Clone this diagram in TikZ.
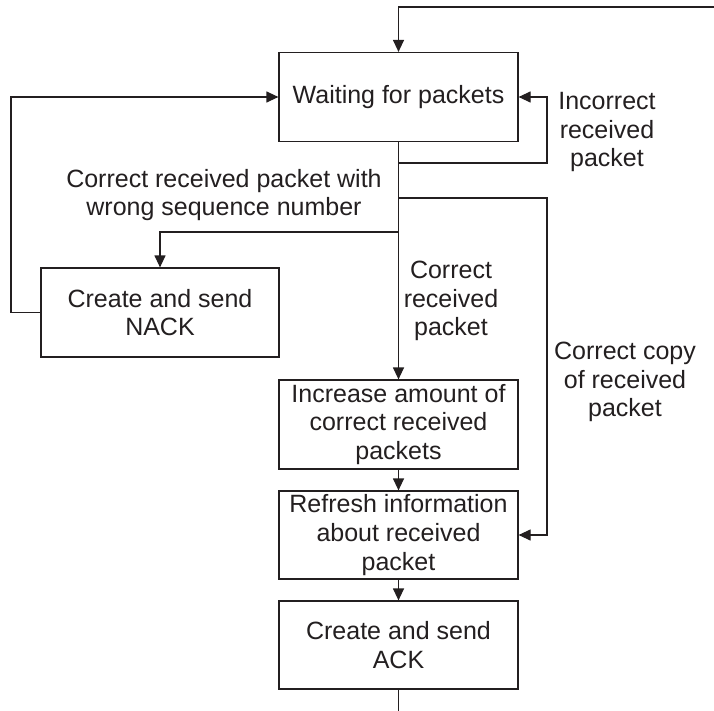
\documentclass[tikz,border=0pt]{standalone}
\usepackage{fontspec}
\setmainfont{Liberation Sans}
\usetikzlibrary{arrows.meta}
\definecolor{ink}{RGB}{35,31,32}
\tikzset{
  x=1pt, y=-1pt,
  every node/.style={text=ink, font=\fontsize{25}{28.8}\selectfont, align=center, inner sep=0pt},
  boxnode/.style={draw=ink, line width=1.2pt, minimum width=239pt, minimum height=89pt},
  conn/.style={draw=ink, line width=1.2pt},
  arr/.style={conn, -{Triangle[length=12pt,width=11pt]}},
  lbl/.style={}
}
\begin{document}
\begin{tikzpicture}
\useasboundingbox (0,0) rectangle (714,711);
\fill[white] (0,0) rectangle (714,711);

\node[boxnode] (wait) at (398.5,97) {Waiting for packets};
\node[boxnode, minimum width=238pt] (nack) at (160,312.5) {Create and send\\NACK};
\node[boxnode] (inc) at (398.5,424.5) {Increase amount of\\correct received\\packets};
\node[boxnode, minimum height=88pt] (ref) at (398.5,535) {Refresh information\\about received\\packet};
\node[boxnode, minimum height=88pt] (ack) at (398.5,645) {Create and send\\ACK};

\node[lbl] (l1) at (607,132) {Incorrect\\received\\packet};
\node[lbl] (l2) at (224,195) {Correct received packet with\\wrong sequence number};
\node[lbl] (l3) at (451,301) {Correct\\received\\packet};
\node[lbl] (l4) at (625,382) {Correct copy\\of received\\packet};

\coordinate (tr) at (714,7);
\coordinate (j1) at (398.5,163);
\coordinate (j2) at (398.5,198);
\coordinate (j3) at (398.5,232);
\coordinate (bot) at (398.5,711);

\draw[arr] (tr) -| (wait.north);
\draw[arr] (nack.west) -- (11,312.5) |- (wait.west);
\draw[arr] (j1) -- (547,163) |- (wait.east);
\draw[arr] (j2) -- (547,198) |- (ref.east);
\draw[arr] (j3) -| (nack.north);
\draw[arr] (wait.south) -- (inc.north);
\draw[arr] (inc.south) -- (ref.north);
\draw[arr] (ref.south) -- (ack.north);
\draw[conn] (ack.south) -- (bot);
\end{tikzpicture}
\end{document}
